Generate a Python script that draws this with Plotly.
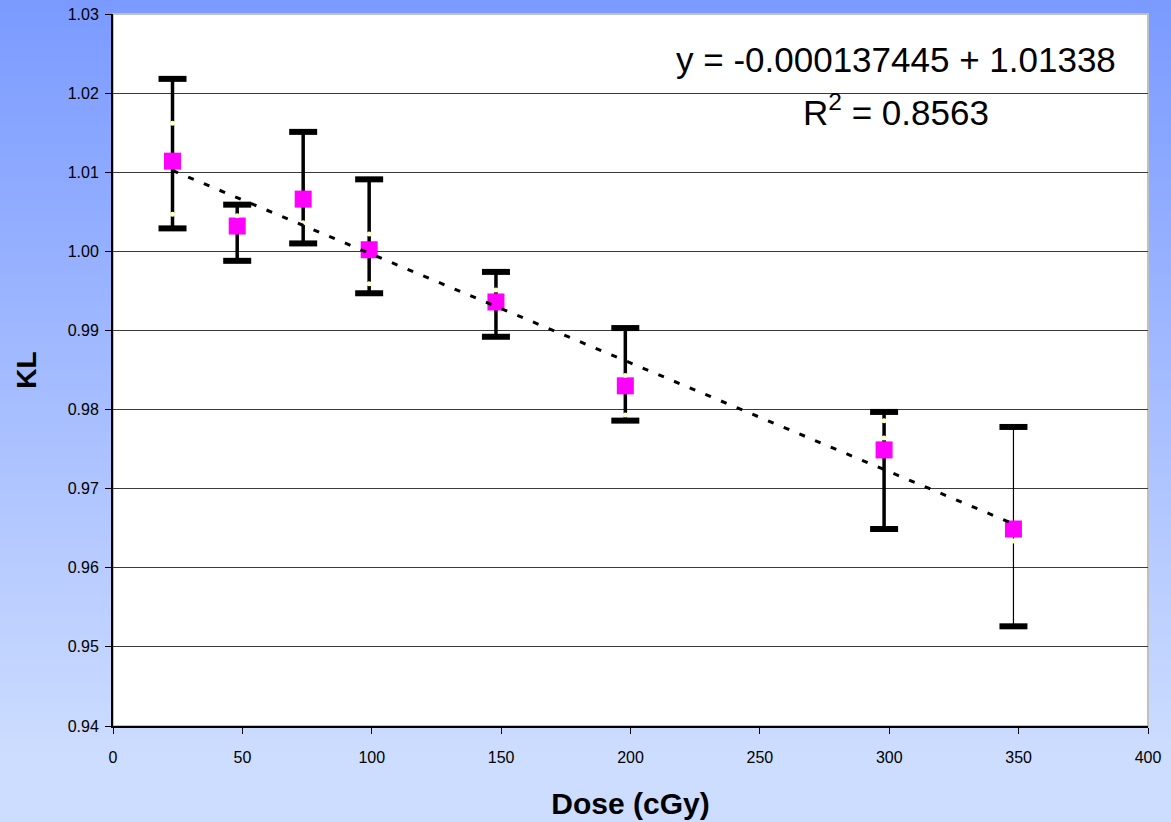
import plotly.graph_objects as go

# ---- data ----
dose = [23, 48, 73.5, 99, 148, 198, 298, 348]
kl_mean = [1.0114, 1.0032, 1.0066, 1.0002, 0.9936, 0.9830, 0.9749, 0.9649]
kl_upper = [1.0218, 1.0059, 1.0151, 1.0091, 0.9974, 0.9903, 0.9797, 0.9778]
kl_lower = [1.0029, 0.9988, 1.0010, 0.9947, 0.9892, 0.9786, 0.9649, 0.9526]

# individual (small pale) points
ind_dose = [23, 23, 48, 73.5, 99, 99, 148, 198, 198, 298, 298, 348]
ind_kl = [1.0162, 1.0047, 1.0045, 1.0036, 1.0022, 0.9959, 0.9951, 0.9843, 0.9793, 0.9786, 0.9764, 0.9634]

fit_slope = -0.000137445
fit_intercept = 1.01338
r_squared = 0.8563

x_ticks = [0, 50, 100, 150, 200, 250, 300, 350, 400]
y_ticks = [0.94, 0.95, 0.96, 0.97, 0.98, 0.99, 1.00, 1.01, 1.02, 1.03]

# ---- figure ----
W, H = 1171, 822
ML, MR, MT, MB = 113, 23, 14, 96
PW, PH = W - ML - MR, H - MT - MB

fig = go.Figure()

err_plus = [u - m for u, m in zip(kl_upper, kl_mean)]
err_minus = [m - l for m, l in zip(kl_mean, kl_lower)]

thick_idx = list(range(len(dose) - 1))
thin_idx = [len(dose) - 1]

for idx, th in ((thick_idx, 3.5), (thin_idx, 1.2)):
    fig.add_trace(go.Scatter(
        x=[dose[i] for i in idx], y=[kl_mean[i] for i in idx],
        mode="markers", marker=dict(size=1, color="rgba(0,0,0,0)"),
        error_y=dict(type="data", symmetric=False,
                     array=[err_plus[i] for i in idx],
                     arrayminus=[err_minus[i] for i in idx],
                     color="black", thickness=th, width=0),
        showlegend=False, hoverinfo="skip"))

# caps
fig.add_trace(go.Scatter(
    x=dose + dose, y=kl_upper + kl_lower, mode="markers",
    marker=dict(symbol="line-ew", size=20, line=dict(width=6, color="black")),
    showlegend=False, hoverinfo="skip"))

# mean markers
fig.add_trace(go.Scatter(
    x=dose, y=kl_mean, mode="markers",
    marker=dict(symbol="square", size=17, color="#FF00FF", line=dict(width=0)),
    showlegend=False))

# individual points
fig.add_trace(go.Scatter(
    x=ind_dose, y=ind_kl, mode="markers",
    marker=dict(symbol="circle", size=5, color="#FFFFCC", line=dict(width=0)),
    showlegend=False))

# trend line
tx = [min(dose), max(dose)]
ty = [fit_slope * v + fit_intercept for v in tx]
fig.add_trace(go.Scatter(
    x=tx, y=ty, mode="lines",
    line=dict(color="black", width=3, dash="6px,11px"),
    showlegend=False, hoverinfo="skip"))

# ---- background gradient ----
shapes = []
top = (122, 154, 255)
bot = (205, 221, 255)
n = 120
grad_end = 760
for k in range(n):
    y0 = H * k / n
    y1 = H * (k + 1) / n + 1
    t = min(1.0, ((y0 + y1) / 2) / grad_end)
    c = tuple(round(a + (b - a) * t) for a, b in zip(top, bot))
    shapes.append(dict(type="rect", xref="paper", yref="paper",
                       x0=-ML / PW, x1=1 + MR / PW,
                       y0=(H - MB - y1) / PH, y1=(H - MB - y0) / PH,
                       fillcolor="rgb(%d,%d,%d)" % c, line=dict(width=0),
                       layer="below"))
shapes.append(dict(type="rect", xref="paper", yref="paper", x0=0, x1=1, y0=0, y1=1,
                   fillcolor="white", line=dict(color="#C0C0C0", width=2), layer="below"))
fig.update_layout(shapes=shapes)

fig.add_annotation(xref="paper", yref="paper",
                   x=(1118 - ML) / PW, y=(H - MB - 60) / PH,
                   xanchor="right", yanchor="middle", showarrow=False,
                   text="y = %s + %s" % (format(fit_slope, ".9f").rstrip("0"), fit_intercept),
                   font=dict(family="Liberation Sans, Arial", size=35, color="black"))
fig.add_annotation(xref="paper", yref="paper",
                   x=(896 - ML) / PW, y=(H - MB - 110) / PH,
                   xanchor="center", yanchor="middle", showarrow=False,
                   text="R<sup>2</sup> = %s" % r_squared,
                   font=dict(family="Liberation Sans, Arial", size=35, color="black"))

fig.update_layout(
    width=W, height=H,
    margin=dict(l=ML, r=MR, t=MT, b=MB, pad=0, autoexpand=False),
    paper_bgcolor="rgb(205,221,255)",
    plot_bgcolor="rgba(0,0,0,0)",
    font=dict(family="Liberation Sans, Arial", size=16, color="black"),
    xaxis=dict(range=[0, 400], tickvals=x_ticks, ticktext=[str(v) for v in x_ticks],
               automargin=False,
               showgrid=False, zeroline=False, showline=True, linecolor="black", linewidth=2,
               ticks="outside", ticklen=6, tickwidth=1, tickcolor="black",
               tickfont=dict(size=16), ticklabelstandoff=10,
               title=dict(text="<b>Dose (cGy)</b>", font=dict(size=30), standoff=28)),
    yaxis=dict(range=[0.94, 1.03], tickvals=y_ticks, ticktext=["%.2f" % v for v in y_ticks],
               automargin=False,
               showgrid=True, gridcolor="#3a3a3a", gridwidth=1, zeroline=False,
               showline=True, linecolor="black", linewidth=2,
               ticks="outside", ticklen=6, tickwidth=1, tickcolor="black",
               tickfont=dict(size=16), ticklabelstandoff=3,
               title=dict(text="<b>KL</b>", font=dict(size=28), standoff=23)),
)

fig.write_html("out.html", config={"displayModeBar": False},
               post_script="document.body.style.margin='0px';document.body.style.overflow='hidden';")
